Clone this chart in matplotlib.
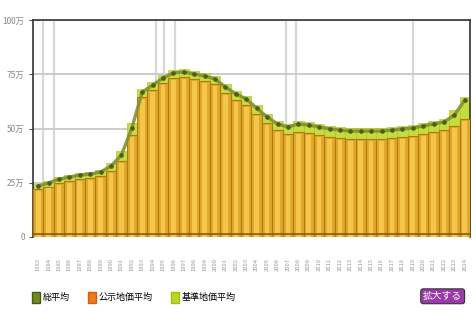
import matplotlib
matplotlib.use("Agg")
from matplotlib import pyplot as plt
from matplotlib.patches import Patch

plt.rcParams['font.family'] = ['Noto Sans CJK JP', 'DejaVu Sans']

years = [str(y) for y in range(1983, 2025)]

# 総平均 (万円/m2)
total_avg = [23.5, 24.9, 26.7, 27.6, 28.6, 29.0, 30.0, 32.7, 37.8, 50.2,
             66.8, 70.0, 73.3, 75.6, 76.0, 75.1, 74.2, 72.8, 69.1, 65.9,
             63.6, 59.4, 55.3, 52.1, 50.7, 52.1, 51.6, 50.7, 49.8, 49.3,
             48.8, 48.8, 48.8, 48.8, 49.3, 49.8, 50.2, 51.2, 52.1, 53.0,
             56.2, 63.1]
# 公示地価平均
koji_avg = [22.0, 23.2, 24.9, 25.8, 26.7, 27.2, 28.1, 30.4, 35.0, 47.0,
            64.5, 67.8, 71.0, 73.3, 73.7, 72.8, 71.9, 70.5, 66.4, 63.2,
            60.8, 56.7, 52.5, 49.3, 47.5, 48.4, 47.9, 47.0, 46.1, 45.6,
            45.1, 45.1, 45.1, 45.1, 45.6, 46.1, 46.5, 47.5, 48.4, 49.3,
            51.2, 54.4]
# 基準地価平均
kijun_avg = [24.4, 25.8, 27.6, 28.6, 29.5, 30.0, 31.0, 33.9, 39.6, 52.5,
             68.2, 71.4, 74.7, 77.0, 77.4, 76.5, 75.6, 74.2, 70.5, 67.3,
             65.0, 60.8, 56.7, 53.5, 52.1, 53.5, 53.0, 52.1, 51.2, 50.7,
             50.2, 50.2, 50.2, 50.2, 50.7, 51.2, 51.6, 52.5, 53.5, 54.4,
             58.5, 64.5]

yticks = [0, 25, 50, 75, 100]
ytick_labels = ["0", "25万", "50万", "75万", "100万"]
event_years = [0.5, 1.5, 11.3, 12.1, 13.1, 23.8, 24.8, 36.0]

fig = plt.figure(figsize=(4.76, 3.21), dpi=100)
ax = fig.add_axes([33 / 476, 84 / 321, 437 / 476, 217 / 321])

x = list(range(len(years)))
for ev in event_years:
    ax.axvline(ev, color="#d8d8d8", lw=1.6, zorder=0)
ax.bar(x, kijun_avg, width=1.0, color="#c4dc3c", edgecolor="#a8c020",
       linewidth=0.4, zorder=2)
ax.bar(x, koji_avg, width=1.0, color="#e2a82a", edgecolor="#b07a14",
       linewidth=0.8, zorder=3)
ax.bar(x, [v - 0.8 for v in koji_avg], width=0.45, color="#f4c64a",
       linewidth=0, zorder=3)
ax.plot(x, total_avg, color="#7e922e", lw=2.4, alpha=0.9, zorder=4)
ax.plot(x, total_avg, ls="none", marker="o", ms=2.3, color="#505a22",
        zorder=5)
ax.axhline(1.2, color="#8a5a10", lw=1.2, zorder=6)

ax.set_xlim(-0.5, len(years) - 0.5)
ax.set_ylim(0, 100)
ax.set_yticks(yticks)
ax.set_yticklabels(ytick_labels, fontsize=6, color="#888888")
ax.yaxis.grid(True, color="#cccccc", lw=1.4)
ax.set_axisbelow(True)
ax.set_xticks(x)
ax.set_xticklabels(years, fontsize=4.2, color="#999999", rotation=90)
ax.tick_params(axis="x", length=0, pad=15)
ax.tick_params(axis="y", length=3, color="#555555", pad=3)
for s in ["top", "left", "right"]:
    ax.spines[s].set_color("#333333")
    ax.spines[s].set_linewidth(1.2)
ax.spines["bottom"].set_visible(False)

handles = [Patch(facecolor="#6f8a1c", edgecolor="#4a5a14"),
           Patch(facecolor="#ee7a1c", edgecolor="#d06010"),
           Patch(facecolor="#b8d820", edgecolor="#a0c010")]
fig.legend(handles, ["総平均", "公示地価平均", "基準地価平均"],
           loc="lower left", bbox_to_anchor=(0.05, 0.03), ncol=3,
           fontsize=6.5, frameon=False, handlelength=0.9, handleheight=1.6,
           handletextpad=0.3, columnspacing=2.0)

fig.text(0.93, 0.077, "拡大する", fontsize=7, color="white",
         ha="center", va="center",
         bbox=dict(boxstyle="round,pad=0.25", facecolor="#9a3aa8",
                   edgecolor="#333333", lw=0.8))

fig.savefig("out.png", dpi=100)
